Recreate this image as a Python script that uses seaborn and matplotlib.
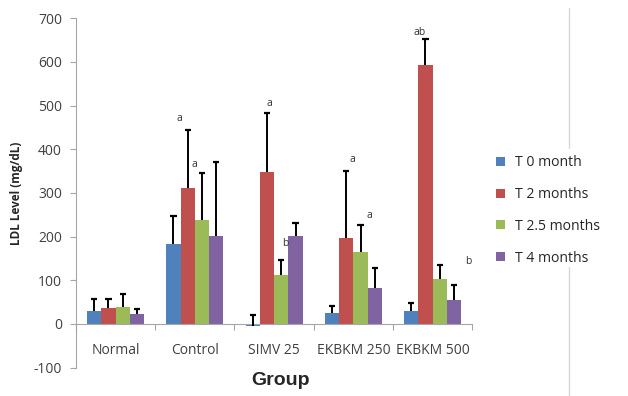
import matplotlib
matplotlib.use('Agg')
import matplotlib.pyplot as plt
from matplotlib.lines import Line2D
import seaborn as sns
import pandas as pd

groups = ['Normal', 'Control', 'SIMV 25', 'EKBKM 250', 'EKBKM 500']
times = ['T 0 month', 'T 2 months', 'T 2.5 months', 'T 4 months']

# mean LDL per group, one list per time point
t0 = [30, 183, -4, 24, 30]
t2 = [37, 311, 347, 197, 592]
t25 = [39, 238, 111, 164, 103]
t4 = [23, 202, 202, 82, 55]

# top of the error bar (mean + SD)
t0_top = [58, 247, 21, 40, 49]
t2_top = [57, 443, 484, 351, 652]
t25_top = [69, 345, 147, 227, 134]
t4_top = [35, 370, 231, 128, 89]

# significance letters: group, x shift inside group, height, text
ann_group = ['Control', 'Control', 'SIMV 25', 'SIMV 25', 'EKBKM 250', 'EKBKM 250', 'EKBKM 500', 'EKBKM 500']
ann_shift = [-0.2, 0.0, -0.06, 0.14, -0.01, 0.2, -0.16, 0.45]
ann_y = [471, 364, 504, 185, 376, 248, 668, 143]
ann_text = ['a', 'a', 'a', 'b', 'a', 'a', 'ab', 'b']

colors = ['#4F81BD', '#C0504D', '#9BBB59', '#8064A2']

rows = []
for t, means, tops in zip(times, [t0, t2, t25, t4], [t0_top, t2_top, t25_top, t4_top]):
    for g, m, top in zip(groups, means, tops):
        rows.append({'Group': g, 'Time': t, 'LDL': m, 'top': top})
df = pd.DataFrame(rows)

sns.set_style('white')
plt.rcParams['font.family'] = ['Open Sans', 'DejaVu Sans']
plt.rcParams['axes.unicode_minus'] = False

fig = plt.figure(figsize=(6.28, 3.96), dpi=100)
ax = fig.add_axes([0.121, 0.0717, 0.631, 0.8823])

sns.barplot(data=df, x='Group', y='LDL', hue='Time', palette=colors,
            width=0.72, errorbar=None, ax=ax, saturation=1, linewidth=0)

# upper error bars only (line + cap at the top)
cap = 0.04
for cont, t in zip(ax.containers, times):
    sub = df[df['Time'] == t].set_index('Group').loc[groups]
    xs = [b.get_x() + b.get_width() / 2 for b in cont]
    means = sub['LDL'].values
    tops = sub['top'].values
    ax.vlines(xs, means, tops, color='black', lw=1.4, zorder=3)
    ax.hlines(tops, [x - cap for x in xs], [x + cap for x in xs], color='black', lw=1.6, zorder=3)

for g, dx, y, s in zip(ann_group, ann_shift, ann_y, ann_text):
    ax.text(groups.index(g) + dx, y, s, ha='center', va='center', fontsize=7.5, color='#333333')

ax.set_ylim(-100, 700)
ax.set_xlim(-0.5, 4.5)
ax.set_yticks(range(-100, 701, 100))
ax.tick_params(axis='y', left=True, length=4, color='#a6a6a6', labelsize=10, labelcolor='#404040', pad=6)
ax.spines['top'].set_visible(False)
ax.spines['right'].set_visible(False)
ax.spines['left'].set_color('#a6a6a6')
ax.spines['bottom'].set_color('#a6a6a6')
ax.spines['bottom'].set_position(('data', 0))

# x axis sits at zero, ticks between groups, labels below
ax.set_xticks([i + 0.5 for i in range(-1, 5)])
ax.set_xticklabels([])
ax.tick_params(axis='x', bottom=True, length=4, color='#a6a6a6', direction='out')
for i, g in enumerate(groups):
    ax.text(i, -60, g, ha='center', va='center', fontsize=10, color='#404040')

ax.set_xlabel('')
ax.set_ylabel('LDL Level (mg/dL)', fontsize=8.5, fontweight='bold', labelpad=8)
fig.text(0.447, 0.038, 'Group', ha='center', va='center', fontsize=14,
         fontweight='bold', family=['Liberation Sans', 'DejaVu Sans'])

handles, labels = ax.get_legend_handles_labels()
ax.legend(handles, labels, loc='upper left', bbox_to_anchor=(0.77, 0.64),
          bbox_transform=fig.transFigure, frameon=False, fontsize=10.1,
          handlelength=0.6, handleheight=0.6, handletextpad=0.75, labelspacing=1.2)

# light frame lines at the right, as in the source image
fig.add_artist(Line2D([569 / 628] * 2, [1 - 8 / 396, 1 - 148 / 396], color='#d9d9d9', lw=1))
fig.add_artist(Line2D([569 / 628] * 2, [1 - 267 / 396, 0], color='#d9d9d9', lw=1))

fig.savefig('out.png', dpi=100)
